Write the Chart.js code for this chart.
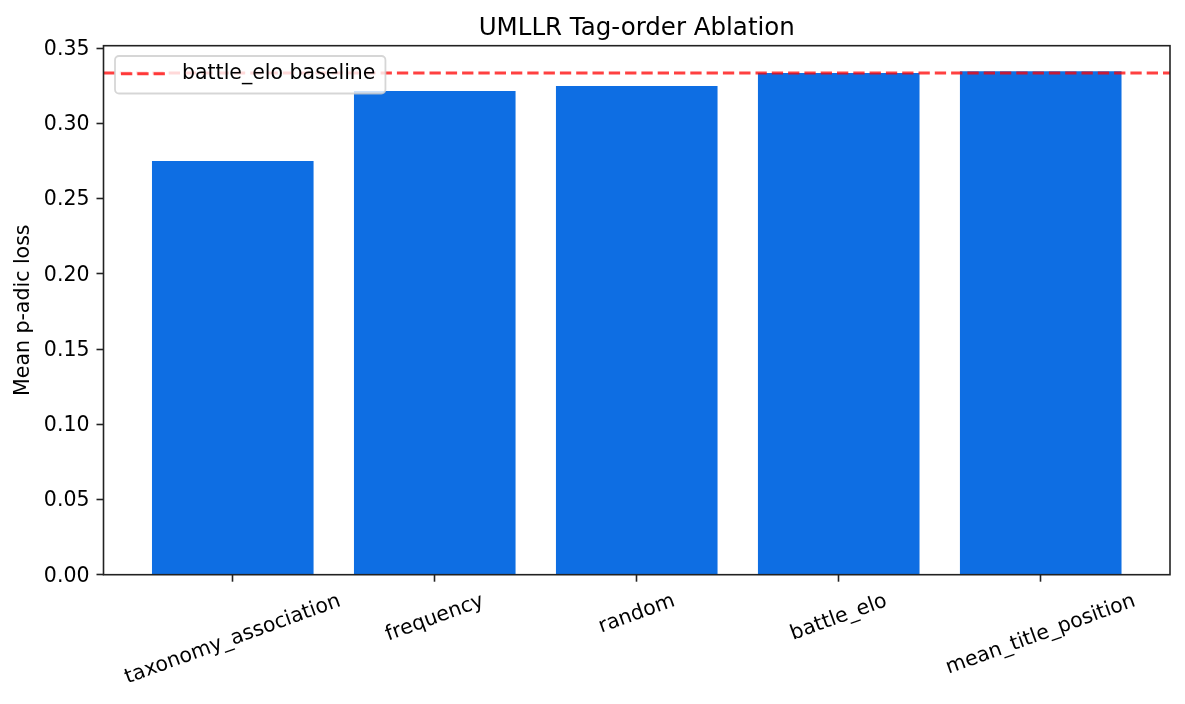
<!DOCTYPE html>
<html>
<head>
<meta charset="utf-8">
<script src="https://cdn.jsdelivr.net/npm/chart.js@4/dist/chart.umd.min.js"></script>
<style>
  html, body { margin: 0; padding: 0; background: #fff; }
  #wrap { width: 1185px; height: 704px; }
</style>
</head>
<body>
<div id="wrap"><canvas id="ablationChart" width="1185" height="704"></canvas></div>
<script>
// values
var categories = ["taxonomy_association", "frequency", "random", "battle_elo", "mean_title_position"];
var lossValues = [0.2749, 0.3215, 0.3248, 0.3335, 0.3347];
var baselineValue = 0.3335;
var yTicks = [0.00, 0.05, 0.10, 0.15, 0.20, 0.25, 0.30, 0.35];
var xRange = [-0.64, 4.64];
var yRange = [0, 0.3516];

var FONT = "'DejaVu Sans', sans-serif";
var FS = 20.5;

// draws the four spines, like a boxed matplotlib axes
var spinesPlugin = {
    id: "spines",
    afterDatasetsDraw: function(chart) {
        var ca = chart.chartArea, ctx = chart.ctx;
        ctx.save();
        ctx.strokeStyle = "#222";
        ctx.lineWidth = 1.6;
        ctx.strokeRect(ca.left, ca.top, ca.right - ca.left, ca.bottom - ca.top);
        ctx.restore();
    }
};

// rotated category labels centred under each tick
var xLabelPlugin = {
    id: "xLabels",
    afterDraw: function(chart) {
        var ctx = chart.ctx, xs = chart.scales.x, ca = chart.chartArea;
        var ang = 20 * Math.PI / 180;
        ctx.save();
        ctx.font = FS + "px " + FONT;
        ctx.fillStyle = "#000";
        ctx.textAlign = "center";
        ctx.textBaseline = "middle";
        for (let i = 0; i < categories.length; i++) {
            var w = ctx.measureText(categories[i]).width;
            var h = FS * 1.17;
            var boxH = w * Math.sin(ang) + h * Math.cos(ang);
            var cx = xs.getPixelForValue(i);
            var cy = ca.bottom + 14.5 + boxH / 2;
            ctx.save();
            ctx.translate(cx, cy);
            ctx.rotate(-ang);
            ctx.fillText(categories[i], 0, 0);
            ctx.restore();
        }
        ctx.restore();
    }
};

// legend box in the upper left corner of the axes
var legendPlugin = {
    id: "boxLegend",
    afterDraw: function(chart) {
        var ctx = chart.ctx, ca = chart.chartArea;
        var ds = chart.data.datasets[1];
        ctx.save();
        ctx.font = FS + "px " + FONT;
        var tw = ctx.measureText(ds.label).width;
        var bx = ca.left + 11.5, by = ca.top + 10.3;
        var bw = 67 + tw + 10, bh = 37.5;
        ctx.beginPath();
        ctx.roundRect(bx, by, bw, bh, 4);
        ctx.fillStyle = "rgba(255,255,255,0.8)";
        ctx.fill();
        ctx.lineWidth = 1.8;
        ctx.strokeStyle = "rgba(204,204,204,0.8)";
        ctx.stroke();
        var ly = by + bh / 2 - 1;
        ctx.beginPath();
        ctx.setLineDash(ds.borderDash);
        ctx.lineWidth = ds.borderWidth;
        ctx.strokeStyle = ds.borderColor;
        ctx.moveTo(bx + 6, ly);
        ctx.lineTo(bx + 50, ly);
        ctx.stroke();
        ctx.setLineDash([]);
        ctx.fillStyle = "#000";
        ctx.textAlign = "left";
        ctx.textBaseline = "middle";
        ctx.fillText(ds.label, bx + 67, ly);
        ctx.restore();
    }
};

var barPoints = lossValues.map(function(v, i) { return { x: i, y: v }; });
var baselinePoints = [{ x: xRange[0], y: baselineValue }, { x: xRange[1], y: baselineValue }];

new Chart(document.getElementById("ablationChart").getContext("2d"), {
    type: "bar",
    data: {
        datasets: [{
            label: "Mean p-adic loss",
            data: barPoints,
            backgroundColor: "#0e6ee3",
            borderWidth: 0,
            categoryPercentage: 0.8,
            barPercentage: 1.0,
            order: 2
        }, {
            type: "line",
            label: "battle_elo baseline",
            data: baselinePoints,
            borderColor: "rgba(255,0,0,0.75)",
            borderWidth: 3.1,
            borderDash: [11.3, 5],
            pointRadius: 0,
            fill: false,
            order: 1
        }]
    },
    options: {
        responsive: false,
        animation: false,
        devicePixelRatio: 1,
        layout: { padding: { left: 0, right: 15, top: 0, bottom: 0 } },
        plugins: {
            legend: { display: false },
            tooltip: { enabled: false },
            title: {
                display: true,
                text: "UMLLR Tag-order Ablation",
                fullSize: false,
                color: "#000",
                font: { family: FONT, size: 24.5, weight: "normal", lineHeight: 1.2 },
                padding: { top: 13.5, bottom: 2.8 }
            }
        },
        scales: {
            x: {
                type: "linear",
                offset: false,
                min: xRange[0],
                max: xRange[1],
                afterBuildTicks: function(scale) {
                    scale.ticks = categories.map(function(c, i) { return { value: i }; });
                },
                afterFit: function(scale) { scale.height = 129.3; },
                ticks: { display: false },
                grid: {
                    offset: false,
                    drawOnChartArea: false,
                    drawTicks: true,
                    tickLength: 7,
                    tickColor: "#222",
                    tickWidth: 1.6
                },
                border: { display: false }
            },
            y: {
                min: yRange[0],
                max: yRange[1],
                afterBuildTicks: function(scale) {
                    scale.ticks = yTicks.map(function(v) { return { value: v }; });
                },
                afterFit: function(scale) { scale.width = 103.5; },
                ticks: {
                    color: "#000",
                    padding: 7,
                    labelOffset: 1.5,
                    font: { family: FONT, size: FS },
                    callback: function(v) { return Number(v).toFixed(2); }
                },
                grid: {
                    drawOnChartArea: false,
                    drawTicks: true,
                    tickLength: 7,
                    tickColor: "#222",
                    tickWidth: 1.6
                },
                border: { display: false },
                title: {
                    display: true,
                    text: "Mean p-adic loss",
                    color: "#000",
                    font: { family: FONT, size: FS, lineHeight: 1.2 },
                    padding: { top: 11.5, bottom: 0 }
                }
            }
        }
    },
    plugins: [spinesPlugin, xLabelPlugin, legendPlugin]
});
</script>
</body>
</html>
